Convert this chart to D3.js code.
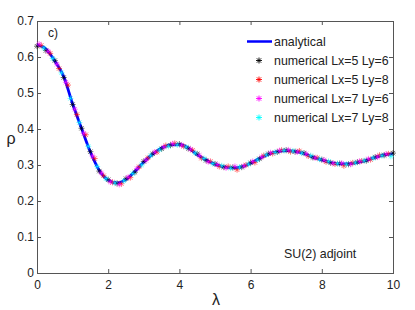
<!DOCTYPE html>
<html><head><meta charset="utf-8">
<script src="https://cdn.jsdelivr.net/npm/d3@7"></script>
<style>body{margin:0;background:#fff;} text{font-family:"Liberation Sans",Arial,sans-serif;fill:#222;}</style>
</head><body><svg id="c" width="415" height="310"></svg>
<script>
const xTicks=[0,2,4,6,8,10];
const yTicks=[0,0.1,0.2,0.3,0.4,0.5,0.6,0.7];
const seriesNames=["analytical","numerical Lx=5 Ly=6","numerical Lx=5 Ly=8","numerical Lx=7 Ly=6","numerical Lx=7 Ly=8"];
const seriesColors=["#0000ff","#000000","#ff0000","#ff00ff","#00ffff"];

const lamA=[0,0.25,0.5,0.75,1,1.25,1.5,1.75,2,2.25,2.5,2.75,3,3.25,3.5,3.75,4,4.25,4.5,4.75,5,5.25,5.5,5.75,6,6.25,6.5,6.75,7,7.25,7.5,7.75,8,8.25,8.5,8.75,9,9.25,9.5,9.75,10];
const rhoA=[0.634,0.622,0.589,0.546,0.470,0.402,0.336,0.285,0.258,0.250,0.260,0.282,0.308,0.330,0.347,0.356,0.357,0.347,0.329,0.314,0.302,0.295,0.292,0.295,0.305,0.318,0.330,0.337,0.340,0.338,0.332,0.322,0.314,0.307,0.303,0.303,0.307,0.313,0.321,0.328,0.331];

const lamK=[0,0.25,0.5,0.75,1,1.25,1.5,1.75,2,2.25,2.5,2.75,3,3.25,3.5,3.75,4,4.25,4.5,4.75,5,5.25,5.5,5.75,6,6.25,6.5,6.75,7,7.25,7.5,7.75,8,8.25,8.5,8.75,9,9.25,9.5,9.75,10];
const rhoK=[0.630,0.618,0.590,0.543,0.468,0.402,0.337,0.283,0.259,0.249,0.262,0.280,0.310,0.331,0.345,0.355,0.358,0.346,0.331,0.313,0.303,0.294,0.293,0.294,0.306,0.317,0.331,0.336,0.341,0.337,0.333,0.321,0.315,0.306,0.304,0.302,0.308,0.312,0.322,0.327,0.333];

const lamR=[0.12,0.37,0.62,0.87,1.12,1.37,1.62,1.87,2.12,2.37,2.62,2.87,3.12,3.37,3.62,3.87,4.12,4.37,4.62,4.87,5.12,5.37,5.62,5.87,6.12,6.37,6.62,6.87,7.12,7.37,7.62,7.87,8.12,8.37,8.62,8.87,9.12,9.37,9.62,9.87];
const rhoR=[0.632,0.610,0.568,0.522,0.440,0.384,0.318,0.270,0.252,0.248,0.265,0.295,0.320,0.336,0.354,0.360,0.352,0.341,0.319,0.310,0.296,0.296,0.287,0.300,0.307,0.326,0.332,0.341,0.337,0.339,0.325,0.320,0.309,0.303,0.298,0.306,0.311,0.315,0.327,0.331];

const lamM=[0.06,0.31,0.56,0.81,1.06,1.31,1.56,1.81,2.06,2.31,2.56,2.81,3.06,3.31,3.56,3.81,4.06,4.31,4.56,4.81,5.06,5.31,5.56,5.81,6.06,6.31,6.56,6.81,7.06,7.31,7.56,7.81,8.06,8.31,8.56,8.81,9.06,9.31,9.56,9.81];
const rhoM=[0.636,0.616,0.580,0.530,0.455,0.388,0.325,0.278,0.253,0.246,0.266,0.290,0.313,0.336,0.350,0.359,0.355,0.344,0.327,0.309,0.301,0.292,0.296,0.297,0.310,0.322,0.334,0.340,0.342,0.336,0.331,0.320,0.314,0.305,0.305,0.302,0.310,0.317,0.322,0.330];

const lamC=[0.19,0.44,0.69,0.94,1.19,1.44,1.69,1.94,2.19,2.44,2.69,2.94,3.19,3.44,3.69,3.94,4.19,4.44,4.69,4.94,5.19,5.44,5.69,5.94,6.19,6.44,6.69,6.94,7.19,7.44,7.69,7.94,8.19,8.44,8.69,8.94,9.19,9.44,9.69,9.94];
const rhoC=[0.625,0.596,0.556,0.485,0.418,0.352,0.296,0.262,0.250,0.256,0.276,0.300,0.326,0.342,0.352,0.356,0.350,0.333,0.318,0.304,0.298,0.291,0.294,0.302,0.314,0.328,0.335,0.340,0.339,0.333,0.326,0.316,0.310,0.304,0.302,0.306,0.312,0.319,0.326,0.324];

const numerical=[[lamK,rhoK],[lamR,rhoR],[lamM,rhoM],[lamC,rhoC]];

const svg=d3.select("#c");
const x=d3.scaleLinear().domain([0,10]).range([37,393]);
const y=d3.scaleLinear().domain([0,0.7]).range([273,21]);
const axisColor="#555";

svg.append("rect").attr("x",37).attr("y",21).attr("width",356).attr("height",252)
  .attr("fill","none").attr("stroke",axisColor).attr("stroke-width",1).attr("shape-rendering","crispEdges");

const xAx=svg.append("g").attr("transform","translate(0,273)")
  .call(d3.axisBottom(x).tickValues(xTicks).tickSize(-4).tickPadding(7).tickFormat(d3.format("d")));
const xAxT=svg.append("g").attr("transform","translate(0,21)")
  .call(d3.axisTop(x).tickValues(xTicks).tickSize(-4).tickFormat(""));
const yAx=svg.append("g").attr("transform","translate(37,0)")
  .call(d3.axisLeft(y).tickValues(yTicks).tickSize(-4).tickPadding(3).tickFormat(d=>d===0?"0":d3.format(".1f")(d)));
const yAxR=svg.append("g").attr("transform","translate(393,0)")
  .call(d3.axisRight(y).tickValues(yTicks).tickSize(-4).tickFormat(""));
[xAx,xAxT,yAx,yAxR].forEach(g=>{
  g.select(".domain").remove();
  g.selectAll("line").attr("stroke",axisColor);
  g.selectAll("text").attr("font-size",12).attr("fill","#222").attr("font-family","Liberation Sans, Arial, sans-serif");
});

const line=d3.line().x((d,i)=>x(lamA[i])).y(d=>y(d)).curve(d3.curveMonotoneX);
svg.append("path").datum(rhoA).attr("d",line).attr("fill","none")
  .attr("stroke",seriesColors[0]).attr("stroke-width",2.8);

const s=3, dd=2.2;
const star=`M${-s},0L${s},0M0,${-s}L0,${s}M${-dd},${-dd}L${dd},${dd}M${-dd},${dd}L${dd},${-dd}`;
numerical.forEach((ser,si)=>{
  svg.append("g").selectAll("path").data(ser[1]).join("path")
    .attr("d",star)
    .attr("transform",(d,i)=>`translate(${x(ser[0][i])},${y(d)})`)
    .attr("fill","none").attr("stroke",seriesColors[si+1]).attr("stroke-width",0.8).attr("opacity",0.7);
});

const lg=svg.append("g");
const ly0=41.5, ldy=19;
seriesNames.forEach((n,i)=>{
  const yy=ly0+i*ldy;
  if(i===0){
    lg.append("line").attr("x1",247).attr("x2",272).attr("y1",yy).attr("y2",yy)
      .attr("stroke",seriesColors[0]).attr("stroke-width",2.5);
  } else {
    lg.append("path").attr("d",star).attr("transform",`translate(259,${yy})`)
      .attr("fill","none").attr("stroke",seriesColors[i]).attr("stroke-width",0.9);
  }
  lg.append("text").attr("x",274).attr("y",yy+4.5).attr("font-size",12.4).text(n);
});

svg.append("text").attr("x",48).attr("y",37).attr("font-size",12).text("c)");
svg.append("text").attr("x",11).attr("y",144).attr("font-size",16).attr("text-anchor","middle").text("ρ");
svg.append("text").attr("x",216).attr("y",305).attr("font-size",16).attr("text-anchor","middle").text("λ");
svg.append("text").attr("x",284).attr("y",258).attr("font-size",12.4).text("SU(2) adjoint");
</script></body></html>
